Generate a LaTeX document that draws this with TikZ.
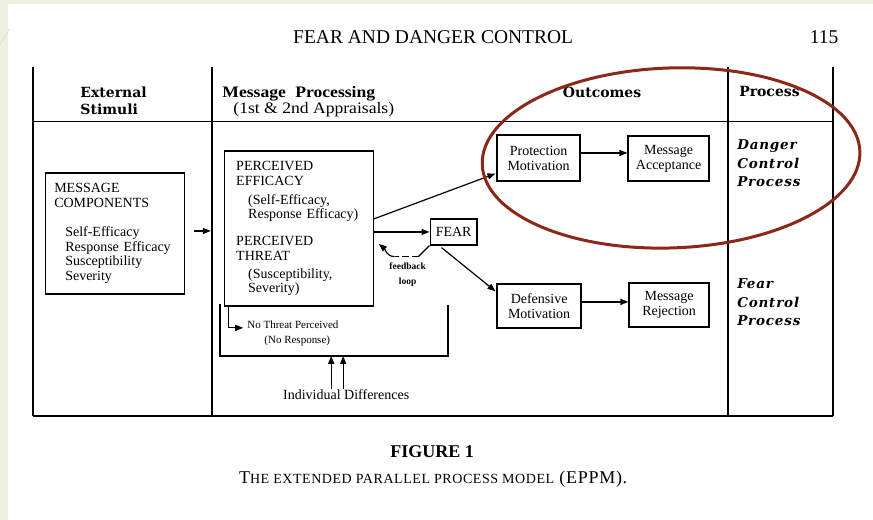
\documentclass[tikz,border=0pt]{standalone}
\usepackage{fontspec}
\setmainfont{Liberation Serif}
\newfontfamily\headfont{DejaVu Serif}
\newfontfamily\procfont[LetterSpace=6]{DejaVu Serif}
\newfontfamily\msgfont[FakeStretch=1.1]{Liberation Serif}
\newfontfamily\capfont[LetterSpace=4]{Liberation Serif}
\usetikzlibrary{arrows.meta,calc}
\definecolor{slidegreen}{RGB}{237,241,224}
\definecolor{slideline}{RGB}{214,222,196}
\definecolor{ringred}{RGB}{139,40,26}
\newcommand\smallcap[1]{{\fontsize{14}{14}\selectfont #1}}

\begin{document}
\begin{tikzpicture}[x=1pt,y=-1pt,
  tablerule/.style={line width=1.9pt},
  stagebox/.style={draw,line width=1.3pt,rectangle,inner sep=0pt,
    font=\fontsize{14}{15}\selectfont,align=center},
  label/.style={inner sep=0pt},
  headtext/.style={label,font=\headfont\bfseries\fontsize{14}{16.5}\selectfont},
  proctext/.style={label,anchor=west,align=left,font=\procfont\bfseries\itshape\fontsize{13.5}{18.5}\selectfont},
  arr/.style={line width=1.2pt,-{Triangle[length=8pt,width=6pt]}},
  plain/.style={line width=1.2pt}
]
% slide background and page
\fill[slidegreen] (0,0) rectangle (873,520);
\fill[white] (8,4) rectangle (873,520);
\draw[slideline,line width=0.6pt] (0,44) -- (9,29);
\useasboundingbox (0,0) rectangle (873,520);

% running head
\node[label,font=\fontsize{19.5}{20}\selectfont] (title) at (433,37) {FEAR AND DANGER CONTROL};
\node[label,font=\fontsize{19.5}{20}\selectfont] (pagenum) at (824,37) {115};

% table frame
\draw[tablerule] (33,67) -- (33,416);
\draw[tablerule] (212,67) -- (212,416);
\draw[tablerule] (728,67) -- (728,416);
\draw[tablerule] (833,67) -- (833,416);
\draw[tablerule] (33,121.5) -- (833,121.5);
\draw[tablerule] (33,416) -- (833,416);

% column heads
\node[headtext,anchor=west,align=left] (hext) at (80,101) {External\\Stimuli};
\node[label,anchor=west,align=left,font=\msgfont\fontsize{16}{13}\selectfont] (hmsg) at (222,101.5)
  {{\bfseries Message\hspace{5pt} Processing}\\\hspace*{11pt}(1st \& 2nd Appraisals)};
\node[headtext] (hout) at (602,92) {Outcomes};
\node[headtext,anchor=west] (hproc) at (739,92) {Process};

% stimulus box
\node[stagebox,align=left,text width=121pt,inner xsep=9pt,minimum height=121pt,
  font=\fontsize{14}{14.5}\selectfont] (mc) at (114.5,233.5)
  {MESSAGE\\COMPONENTS\\[15pt]\hspace*{11pt}Self-Efficacy\\\hspace*{11pt}Response Efficacy\\\hspace*{11pt}Susceptibility\\\hspace*{11pt}Severity};

% appraisal box
\node[stagebox,align=left,text width=125pt,inner xsep=12pt,minimum height=155pt,
  font=\fontsize{14}{14.5}\selectfont] (pe) at (298.5,228.5)
  {PERCEIVED\\EFFICACY\\[4.5pt]\hspace*{12pt}(Self-Efficacy,\\\hspace*{12pt}Response Efficacy)\\[12.5pt]PERCEIVED\\THREAT\\[3.5pt]\hspace*{12pt}(Susceptibility,\\\hspace*{12pt}Severity)};

% outcome boxes
\node[stagebox,minimum width=83pt,minimum height=46pt] (pm) at (538.5,158) {Protection\\Motivation};
\node[stagebox,minimum width=81pt,minimum height=45pt] (ma) at (668.5,158.5) {Message\\Acceptance};
\node[stagebox,minimum width=47pt,minimum height=26pt] (fear) at (453.5,232) {FEAR};
\node[stagebox,minimum width=84pt,minimum height=44pt] (dm) at (539,306) {Defensive\\Motivation};
\node[stagebox,minimum width=80pt,minimum height=44pt] (mr) at (669,305) {Message\\Rejection};

% process labels
\node[proctext] (dcp) at (737,163.5) {Danger\\Control\\Process};
\node[proctext] (fcp) at (737,302.5) {Fear\\Control\\Process};

% connectors
\draw[arr] ($(mc.east)+(9,-2.5)$) -- ++(17,0);
\draw[arr] ($(pe.east)+(0,-9.5)$) -- ($(pm.south west)+(-1,-8)$);
\draw[arr] (pe.east |- fear.west) -- (fear.west);
\draw[arr] ($(pm.east)+(0,-5)$) -- ($(ma.west)+(0,-5.5)$);
\draw[arr] ($(fear.south west)+(12,2)$) -- ($(dm.north west)+(-1,8)$);
\draw[arr] ($(dm.east)+(0,-4)$) -- ($(mr.west)+(0,-3)$);

% feedback loop
\coordinate (fb1) at ($(fear.south west)+(-11,11)$);
\coordinate (fb2) at ($(fb1)+(-24,0)$);
\draw[plain] (fear.south west) -- (fb1);
\draw[plain,dash pattern=on 7pt off 3pt] (fb1) -- (fb2);
\draw[arr] (fb2) to[out=180,in=-40] ($(pe.east)+(5,15.5)$);
\node[label,align=center,font=\bfseries\fontsize{9.5}{15}\selectfont] (fb) at (407.5,274.5) {feedback\\loop};

% no-threat branch and bracket
\node[label,anchor=west,align=left,font=\fontsize{11}{15}\selectfont] (nt) at (247,333.5)
  {No Threat Perceived\\\hspace*{17pt}(No Response)};
\draw[arr] ($(pe.south west)+(5,0)$) |- ($(nt.west)+(-4,-5.5)$);
\coordinate (brL) at (220,304);
\coordinate (brBL) at (220,356);
\coordinate (brBR) at (448,356);
\coordinate (brR) at (448,305);
\draw[plain,line width=1.5pt] (brL) -- (brBL) -- (brBR) -- (brR);

\node[label,font=\fontsize{14}{15}\selectfont] (idf) at (346,395) {Individual Differences};
\coordinate (u1) at ($(idf.north)+(-15,-1)$);
\coordinate (u2) at ($(idf.north)+(-3,-1)$);
\draw[arr] (u1) -- (u1 |- brBL);
\draw[arr] (u2) -- (u2 |- brBL);

% caption
\node[label,font=\bfseries\fontsize{18}{20}\selectfont] (fig) at (432,452) {FIGURE 1};
\node[label,font=\capfont\fontsize{18}{20}\selectfont] (cap) at (433,479)
  {T\smallcap{HE EXTENDED PARALLEL PROCESS MODEL} (EPPM).};

% highlight ring
\draw[ringred,line width=3pt,rotate around={2:(671,158)}] (671,158) ellipse [x radius=189,y radius=90];
\end{tikzpicture}
\end{document}
